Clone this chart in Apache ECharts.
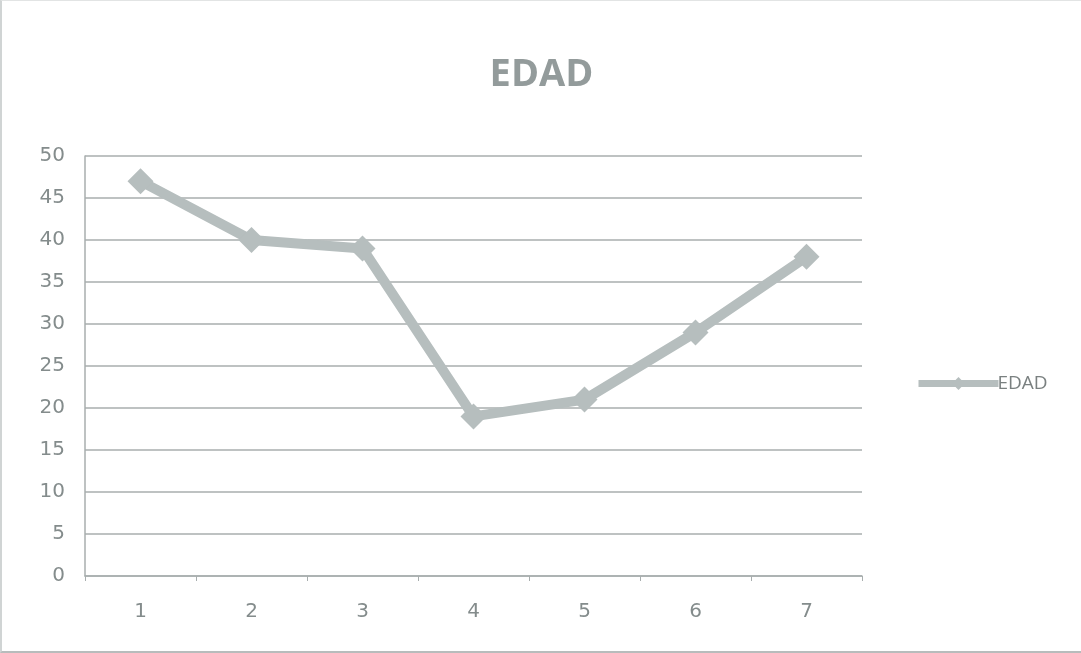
<!DOCTYPE html>
<html>
<head>
<meta charset="utf-8">
<script src="https://cdn.jsdelivr.net/npm/echarts@6/dist/echarts.min.js"></script>
<style>
    html, body { margin: 0; padding: 0; background: #fff; }
    #chart { width: 1081px; height: 653px; box-sizing: border-box; border-left: 2px solid #d0d4d4; border-bottom: 2px solid #b8bcbc; border-top: 1px solid #e2e4e4; }
</style>
</head>
<body>
<div id="chart"></div>
<script>
    // datos
    var categorias = ["1", "2", "3", "4", "5", "6", "7"];
    var edad = [47, 40, 39, 19, 21, 29, 38];
    var ticksY = [0, 5, 10, 15, 20, 25, 30, 35, 40, 45, 50];

    var myChart = echarts.init(document.getElementById("chart"));
    myChart.setOption({
        animation: false,
        title: {
            text: "EDAD",
            left: "center",
            top: 50,
            textStyle: { color: "#939b9b", fontSize: 38, fontWeight: "bold", fontFamily: "Open Sans" }
        },
        legend: {
            data: ["EDAD"],
            orient: "vertical",
            left: 908,
            top: 368,
            itemWidth: 80,
            itemHeight: 16,
            itemGap: 4,
            lineStyle: { width: 7 },
            textStyle: { color: "#7a8080", fontSize: 19, fontFamily: "Open Sans", padding: [0, 0, 0, -6] }
        },
        grid: { left: 83, right: 219, top: 155, bottom: 75 },
        xAxis: {
            type: "category",
            data: categorias,
            boundaryGap: true,
            axisLine: { lineStyle: { color: "#a8aeae", width: 1.5 } },
            axisTick: { show: true, length: 5, lineStyle: { color: "#a8aeae" } },
            axisLabel: { color: "#848c8c", fontSize: 20, margin: 26, fontFamily: "DejaVu Sans" }
        },
        yAxis: {
            type: "value",
            min: ticksY[0],
            max: ticksY[ticksY.length - 1],
            interval: 5,
            axisLine: { show: true, lineStyle: { color: "#a8aeae", width: 1.5 } },
            axisTick: { show: false },
            splitLine: { lineStyle: { color: "#a8aeae", width: 1.5 } },
            axisLabel: { color: "#848c8c", fontSize: 20, margin: 20, fontFamily: "DejaVu Sans" }
        },
        series: [
            {
                name: "EDAD",
                type: "line",
                data: edad,
                symbol: "diamond",
                symbolSize: 26,
                lineStyle: { color: "#b6bebe", width: 10 },
                itemStyle: { color: "#b6bebe" }
            }
        ]
    });
</script>
</body>
</html>
